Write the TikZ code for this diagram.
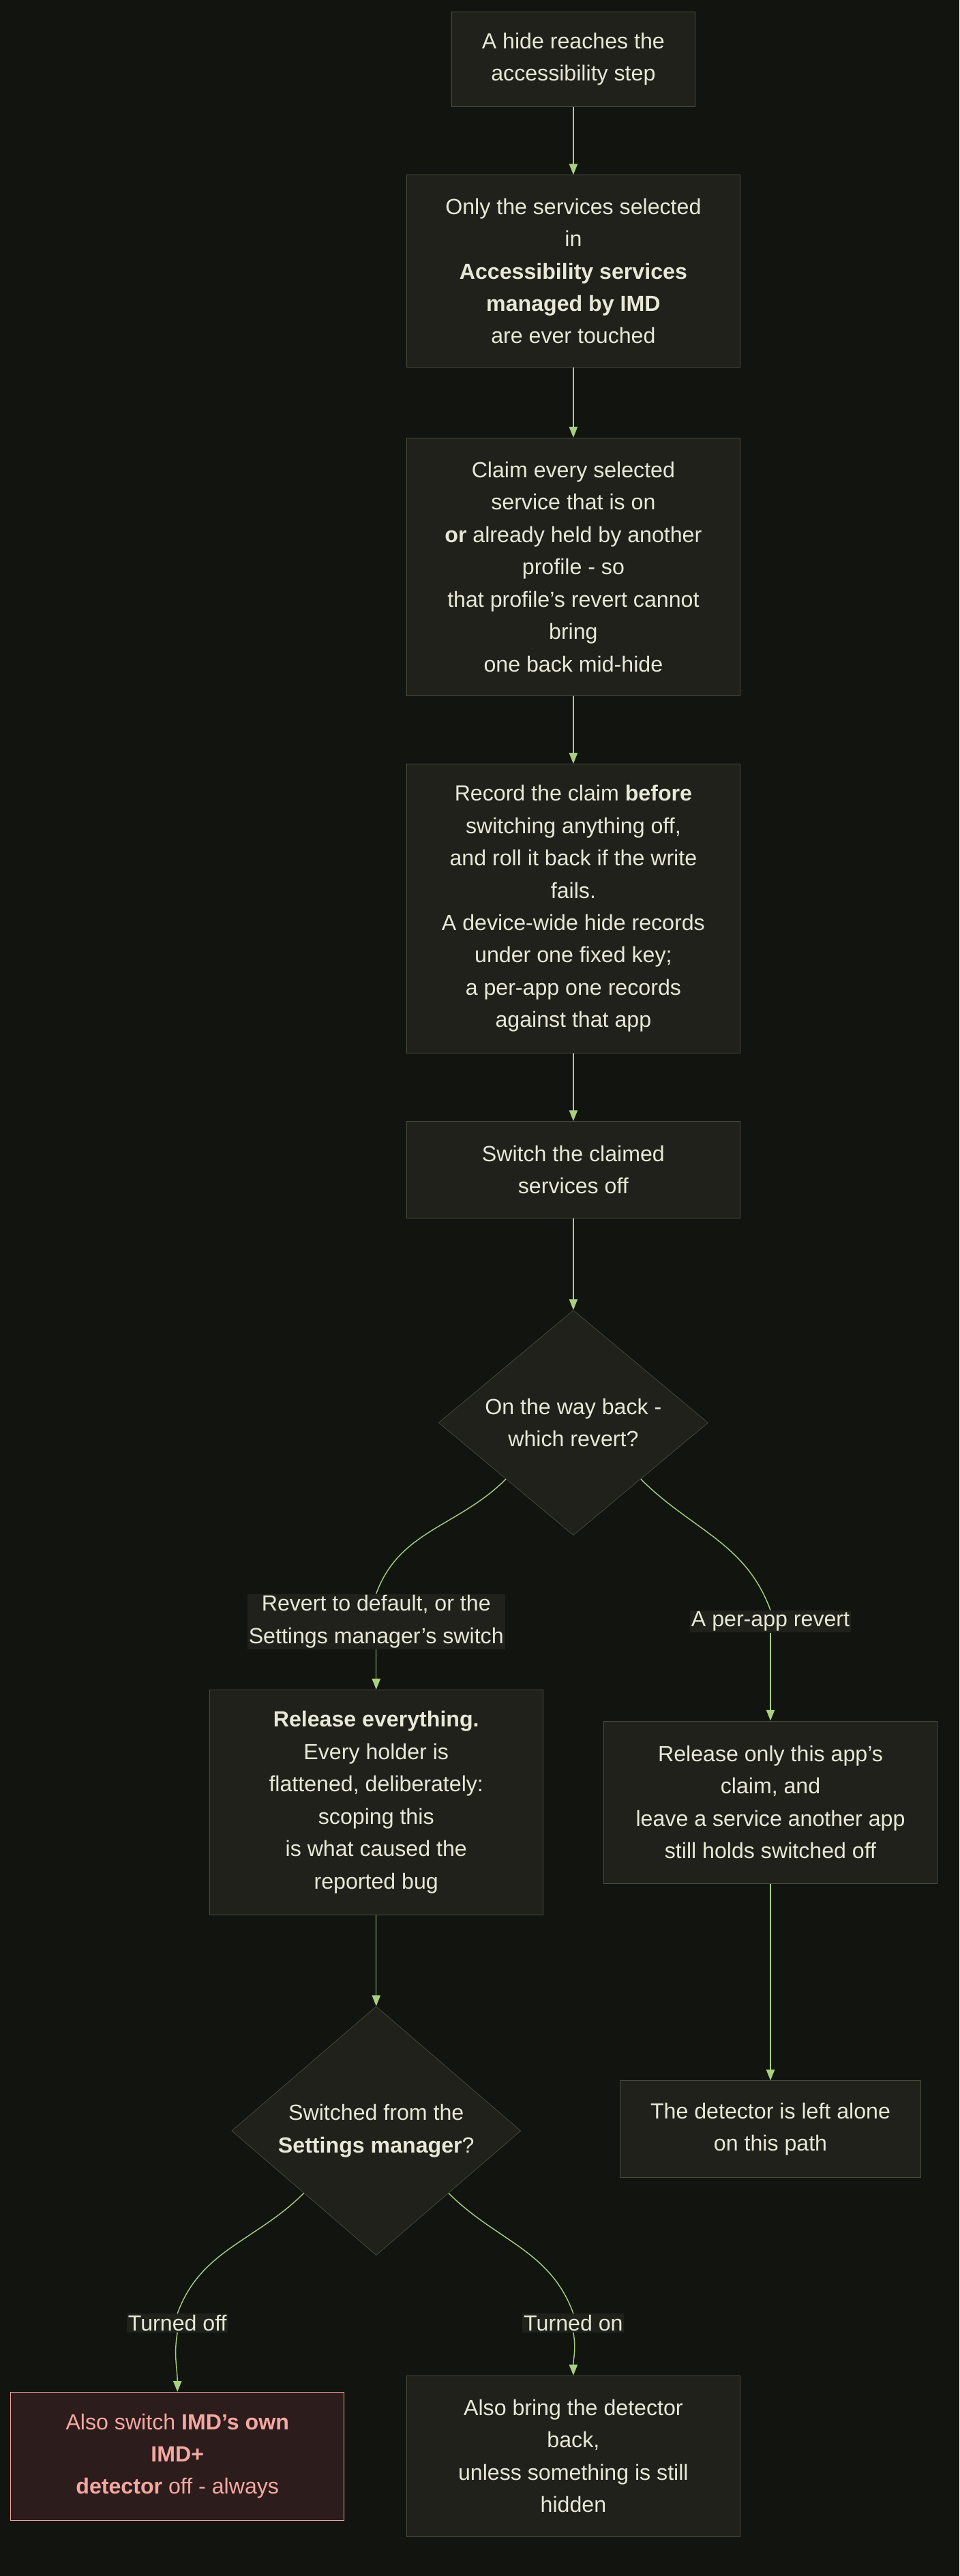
\documentclass[tikz,border=0pt]{standalone}
\usepackage{fontspec}
\setmainfont{Liberation Sans}
\usetikzlibrary{shapes.geometric,arrows.meta}
\definecolor{bgc}{HTML}{12140F}
\definecolor{boxfill}{HTML}{1F211A}
\definecolor{boxline}{HTML}{4A4C40}
\definecolor{txt}{HTML}{E8E8D8}
\definecolor{arr}{HTML}{A8D080}
\definecolor{redfill}{HTML}{2C1C1C}
\definecolor{redline}{HTML}{F4A8A0}
\newcommand{\dpx}{0.04822cm}
\tikzset{
  box/.style={draw=boxline, fill=boxfill, text=txt, align=center, inner sep=0pt,
    minimum width=203*\dpx, font=\fontsize{18.3}{27}\selectfont},
  dec/.style={box, diamond, aspect=1, minimum width=164*\dpx},
  lab/.style={fill=boxfill, text=txt, align=center, inner sep=1pt,
    font=\fontsize{18.3}{27}\selectfont},
  flow/.style={draw=arr, line width=0.8pt, -{Triangle[length=9pt,width=7pt]}}
}
\begin{document}
\begin{tikzpicture}[x=\dpx, y=-\dpx]
	\fill[bgc] (0,0) rectangle (584,1568);
	\useasboundingbox (0,0) rectangle (584,1568);

	\node[box, minimum width=148*\dpx, minimum height=58*\dpx] at (349, 36) (reach) {A hide reaches the\\accessibility step};
	\node[box, minimum height=117*\dpx] at (349, 165) (only) {Only the services selected\\in\\\textbf{Accessibility services}\\\textbf{managed by IMD}\\are ever touched};
	\node[box, minimum height=157*\dpx] at (349, 345) (claim) {Claim every selected\\service that is on\\\textbf{or} already held by another\\profile - so\\that profile's revert cannot\\bring\\one back mid-hide};
	\node[box, minimum height=176*\dpx] at (349, 553) (record) {Record the claim \textbf{before}\\switching anything off,\\and roll it back if the write\\fails.\\A device-wide hide records\\under one fixed key;\\a per-app one records\\against that app};
	\node[box, minimum height=59*\dpx] at (349, 712) (switch) {Switch the claimed\\services off};
	\node[dec] at (349, 866) (which) {On the way back -\\which revert?};

	\node[lab] at (229, 987) (ldefault) {Revert to default, or the\\Settings manager's switch};
	\node[lab] at (469, 987) (lperapp) {A per-app revert};

	\node[box, minimum height=137*\dpx] at (229, 1097) (release) {\textbf{Release everything.}\\Every holder is\\flattened, deliberately:\\scoping this\\is what caused the\\reported bug};
	\node[box, minimum height=99*\dpx] at (469, 1097) (releaseapp) {Release only this app's\\claim, and\\leave a service another app\\still holds switched off};
	\node[dec, minimum width=176*\dpx] at (229, 1297) (fromsm) {Switched from the\\\textbf{Settings manager}?};
	\node[box, minimum width=183*\dpx, minimum height=59*\dpx] at (469, 1296) (alone) {The detector is left alone\\on this path};

	\node[lab] at (108, 1414) (loff) {Turned off};
	\node[lab] at (349, 1414) (lon) {Turned on};

	\node[box, draw=redline, fill=redfill, text=redline, minimum height=78*\dpx] at (108, 1495) (own) {Also switch \textbf{IMD's own}\\\textbf{IMD+}\\\textbf{detector} off - always};
	\node[box, minimum height=98*\dpx] at (349, 1495) (back) {Also bring the detector\\back,\\unless something is still\\hidden};

	\draw[flow] (reach) -- (only);
	\draw[flow] (only) -- (claim);
	\draw[flow] (claim) -- (record);
	\draw[flow] (record) -- (switch);
	\draw[flow] (switch) -- (which);
	\draw[draw=arr, line width=0.8pt] (which.south west) ++(0,0) to[out=-135, in=70] (ldefault.north);
	\draw[flow] (ldefault.south) to[out=-90, in=90] (release.north);
	\draw[draw=arr, line width=0.8pt] (which.south east) to[out=-45, in=110] (lperapp.north);
	\draw[flow] (lperapp.south) to[out=-90, in=90] (releaseapp.north);
	\draw[flow] (release) -- (fromsm);
	\draw[flow] (releaseapp) -- (alone);
	\draw[draw=arr, line width=0.8pt] (fromsm.south west) to[out=-135, in=70] (loff.north);
	\draw[flow] (loff.south) to[out=-100, in=90] (own.north);
	\draw[draw=arr, line width=0.8pt] (fromsm.south east) to[out=-45, in=110] (lon.north);
	\draw[flow] (lon.south) to[out=-80, in=90] (back.north);
\end{tikzpicture}
\end{document}
